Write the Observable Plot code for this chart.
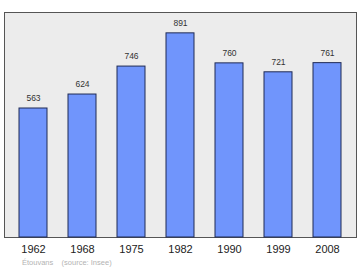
<!DOCTYPE html>
<html><head><meta charset="utf-8">
<script src="https://cdn.jsdelivr.net/npm/d3@7"></script>
<script src="https://cdn.jsdelivr.net/npm/@observablehq/plot@0.6"></script>
<style>
body{margin:0;background:#fff;font-family:"Liberation Sans",Arial,sans-serif;}
#cap{font-size:7.5px;color:#b3b3b3;margin-left:22px;margin-top:2px;white-space:pre;line-height:9px;}
</style></head>
<body><div id="chart"></div><div id="cap">Étouvans    (source: Insee)</div>
<script>
const years = ["1962","1968","1975","1982","1990","1999","2008"];
const population = [563,624,746,891,760,721,761];
const data = years.map((y,i)=>({year:y, pop:population[i]}));
const plot = Plot.plot({
  width:360, height:256,
  marginLeft:4, marginRight:4, marginTop:12, marginBottom:19,
  style:{fontFamily:'"Liberation Sans",Arial,sans-serif', background:"#fff"},
  x:{domain:years, paddingInner:0.43, paddingOuter:0.29, label:null},
  y:{domain:[0,982], axis:null},
  marks:[
    Plot.frame({fill:"#ececec", stroke:"#555", strokeWidth:1}),
    Plot.barY(data,{x:"year", y:"pop", fill:"#7095fc", stroke:"#1f2a55", strokeWidth:1}),
    Plot.text(data,{x:"year", y:"pop", text:d=>String(d.pop), dy:-10, fontSize:8.5, fill:"#333"}),
    Plot.axisX({tickSize:0, tickPadding:8, fontSize:11, fill:"#222", label:null})
  ]
});
document.getElementById("chart").append(plot);
</script></body></html>
